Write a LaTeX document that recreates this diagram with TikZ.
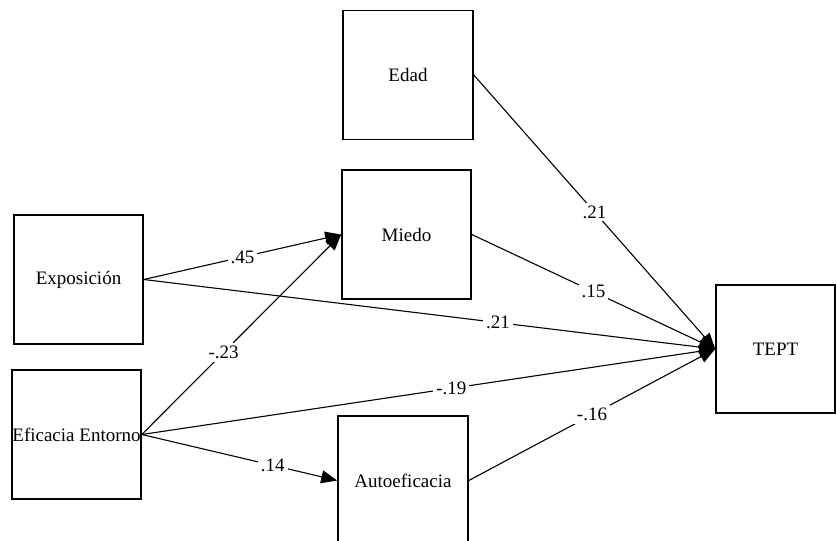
\documentclass[tikz,border=0pt]{standalone}
\usepackage{fontspec}
\setmainfont{Liberation Serif}
\usepackage{tikz}
\usetikzlibrary{positioning, arrows.meta}

\begin{document}
\begin{tikzpicture}[x=1pt, y=-1pt,
	var/.style={draw, line width=1.6pt, inner sep=0pt, minimum width=129pt, minimum height=129pt,
		font=\fontsize{19}{23}\selectfont},
	coef/.style={fill=white, inner sep=3pt, font=\fontsize{19}{23}\selectfont},
	flecha/.style={-{Triangle[length=16pt,width=13pt]}}]
	% marco
	\useasboundingbox (0,0) rectangle (836,541);
	\clip (0,0) rectangle (836,541);
	% variables
	\node[var, minimum width=130pt] (edad) at (408, 75) {Edad};
	\node[var] (miedo) at (406.5, 234.5) {Miedo};
	\node[var] (expo) at (78.5, 279.5) {Exposición};
	\node[var] (efic) at (76.5, 434.5) {Eficacia Entorno};
	\node[var, minimum width=130pt] (auto) at (403, 480.5) {Autoeficacia};
	\node[var, minimum width=119pt, minimum height=128pt] (tept) at (775.5, 349) {TEPT};
	% trayectorias
	\draw[line width=1.1pt]
			(expo.east) edge[flecha] node[coef, pos=0.5]{.45} (miedo.west)
			(efic.east) edge[flecha] node[coef, pos=0.41]{-.23} (miedo.west)
			(efic.east) edge[flecha] node[coef, pos=0.67]{.14} (auto.west)
			(edad.east) edge[flecha] node[coef, pos=0.5]{.21} (tept.west)
			(miedo.east) edge[flecha] node[coef, pos=0.5]{.15} (tept.west)
			(expo.east) edge[flecha] node[coef, pos=0.62]{.21} (tept.west)
			(efic.east) edge[flecha] node[coef, pos=0.54]{-.19} (tept.west)
			(auto.east) edge[flecha] node[coef, pos=0.5]{-.16} (tept.west);
\end{tikzpicture}
\end{document}
